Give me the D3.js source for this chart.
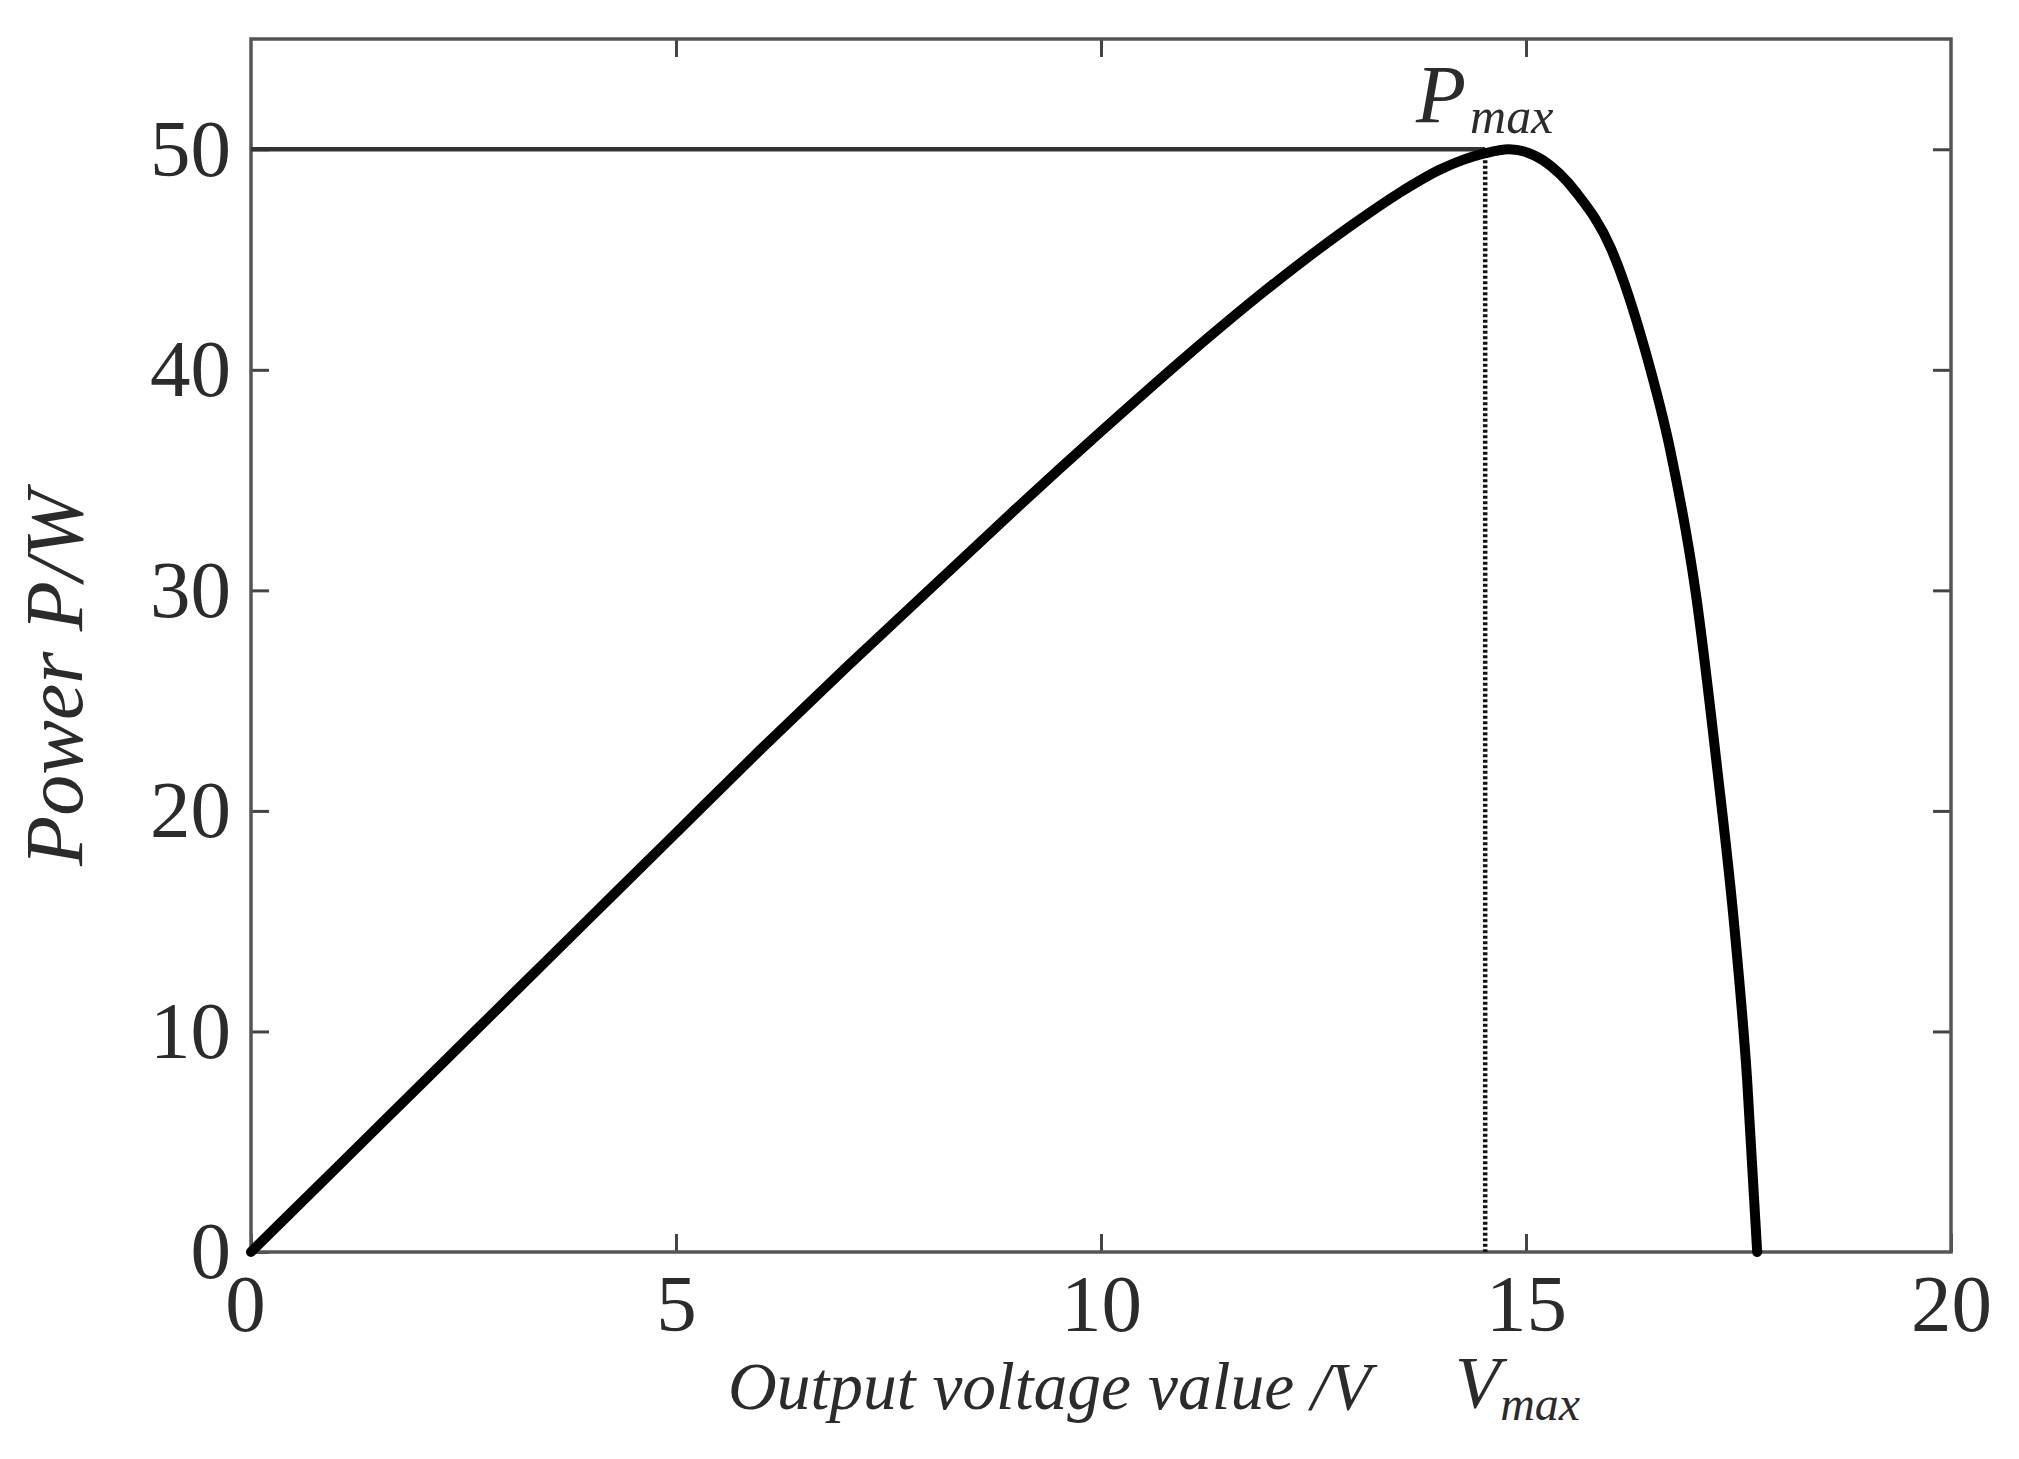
<!DOCTYPE html>
<html>
<head>
<meta charset="utf-8">
<script src="https://cdn.jsdelivr.net/npm/d3@7"></script>
<style>
  html, body { margin: 0; padding: 0; background: #fff; }
  svg { display: block; }
  text { font-family: "Liberation Serif", "Times New Roman", serif; fill: #2b2b2b; }
</style>
</head>
<body>
<svg id="chart" width="2019" height="1459"></svg>
<script>
// ---- data ----
const voltage = [0, 1, 2, 3, 4, 5, 6, 7, 8, 9, 10, 11, 12, 13, 13.5, 14, 14.5, 14.8, 15.2, 15.6, 16.0, 16.4, 16.7, 17.0, 17.25, 17.45, 17.6, 17.72];
const power   = [0, 3.8, 7.6, 11.4, 15.2, 19.0, 22.8, 26.5, 30.1, 33.7, 37.2, 40.6, 43.8, 46.7, 48.0, 49.1, 49.8, 50.0, 49.5, 48.0, 45.5, 40.9, 36.3, 29.8, 21.9, 14.8, 7.9, 0];
const xTicks = [0, 5, 10, 15, 20];
const yTicks = [0, 10, 20, 30, 40, 50];
const xDomain = [0, 20];
const yDomain = [0, 55];
const pMax = 50;
const vMax = 14.52;

// ---- layout ----
const svg = d3.select("#chart");
const mLeft = 251, mRight = 1951, mTop = 39, mBottom = 1252;
const x = d3.scaleLinear().domain(xDomain).range([mLeft, mRight]);
const y = d3.scaleLinear().domain(yDomain).range([mBottom, mTop]);

const tickFont = 81;

// bottom axis with labels
const gx = svg.append("g").attr("transform", `translate(0,${mBottom})`)
  .call(d3.axisBottom(x).tickValues(xTicks).tickFormat(d3.format("d"))
    .tickSizeInner(-18).tickSizeOuter(0).tickPadding(21));
// left axis with labels
const gy = svg.append("g").attr("transform", `translate(${mLeft},0)`)
  .call(d3.axisLeft(y).tickValues(yTicks).tickFormat(d3.format("d"))
    .tickSizeInner(-18).tickSizeOuter(0).tickPadding(20));
// top & right mirrored ticks
const gt = svg.append("g").attr("transform", `translate(0,${mTop})`)
  .call(d3.axisTop(x).tickValues(xTicks.slice(1, -1)).tickFormat("")
    .tickSizeInner(-18).tickSizeOuter(0));
const gr = svg.append("g").attr("transform", `translate(${mRight},0)`)
  .call(d3.axisRight(y).tickValues(yTicks.slice(1)).tickFormat("")
    .tickSizeInner(-18).tickSizeOuter(0));

[gx, gy, gt, gr].forEach(g => {
  g.select(".domain").remove();
  g.selectAll(".tick line").attr("stroke", "#444").attr("stroke-width", 3);
  g.selectAll(".tick text")
    .attr("font-family", "Liberation Serif, Times New Roman, serif")
    .attr("font-size", tickFont)
    .attr("fill", "#2b2b2b");
});
gx.selectAll(".tick text").attr("x", d => d === 0 ? -6 : 0);

// frame
svg.append("rect")
  .attr("x", mLeft).attr("y", mTop)
  .attr("width", mRight - mLeft).attr("height", mBottom - mTop)
  .attr("fill", "none").attr("stroke", "#555").attr("stroke-width", 3.5);

// Pmax horizontal guide
svg.append("line")
  .attr("x1", x(0)).attr("x2", x(vMax))
  .attr("y1", y(pMax)).attr("y2", y(pMax))
  .attr("stroke", "#333").attr("stroke-width", 4.5);

// Vmax vertical dotted guide
svg.append("line")
  .attr("x1", x(vMax)).attr("x2", x(vMax))
  .attr("y1", y(pMax)).attr("y2", y(0))
  .attr("stroke", "#111").attr("stroke-width", 4.5)
  .attr("stroke-dasharray", "3,2.5");

// P-V curve
const pts = voltage.map((v, i) => [v, power[i]]);
const line = d3.line().x(d => x(d[0])).y(d => y(d[1])).curve(d3.curveMonotoneX);
svg.append("path")
  .datum(pts)
  .attr("d", line)
  .attr("fill", "none")
  .attr("stroke", "#000")
  .attr("stroke-width", 10)
  .attr("stroke-linejoin", "round")
  .attr("stroke-linecap", "round");

// labels
const pm = svg.append("text")
  .attr("x", 1416).attr("y", 122)
  .attr("font-style", "italic").attr("font-size", 82);
pm.append("tspan").text("P");
pm.append("tspan").attr("font-size", 50).attr("dx", 4).attr("dy", 11).text("max");

svg.append("text")
  .attr("x", 728).attr("y", 1409)
  .attr("font-style", "italic").attr("font-size", 67.5)
  .text("Output voltage value /V");

const vm = svg.append("text")
  .attr("x", 1455).attr("y", 1408)
  .attr("font-style", "italic").attr("font-size", 74);
vm.append("tspan").text("V");
vm.append("tspan").attr("font-size", 48).attr("dx", 0).attr("dy", 12).text("max");

svg.append("text")
  .attr("transform", "translate(82,678) rotate(-90)")
  .attr("text-anchor", "middle")
  .attr("font-style", "italic").attr("font-size", 82)
  .text("Power P/W");
</script>
</body>
</html>
